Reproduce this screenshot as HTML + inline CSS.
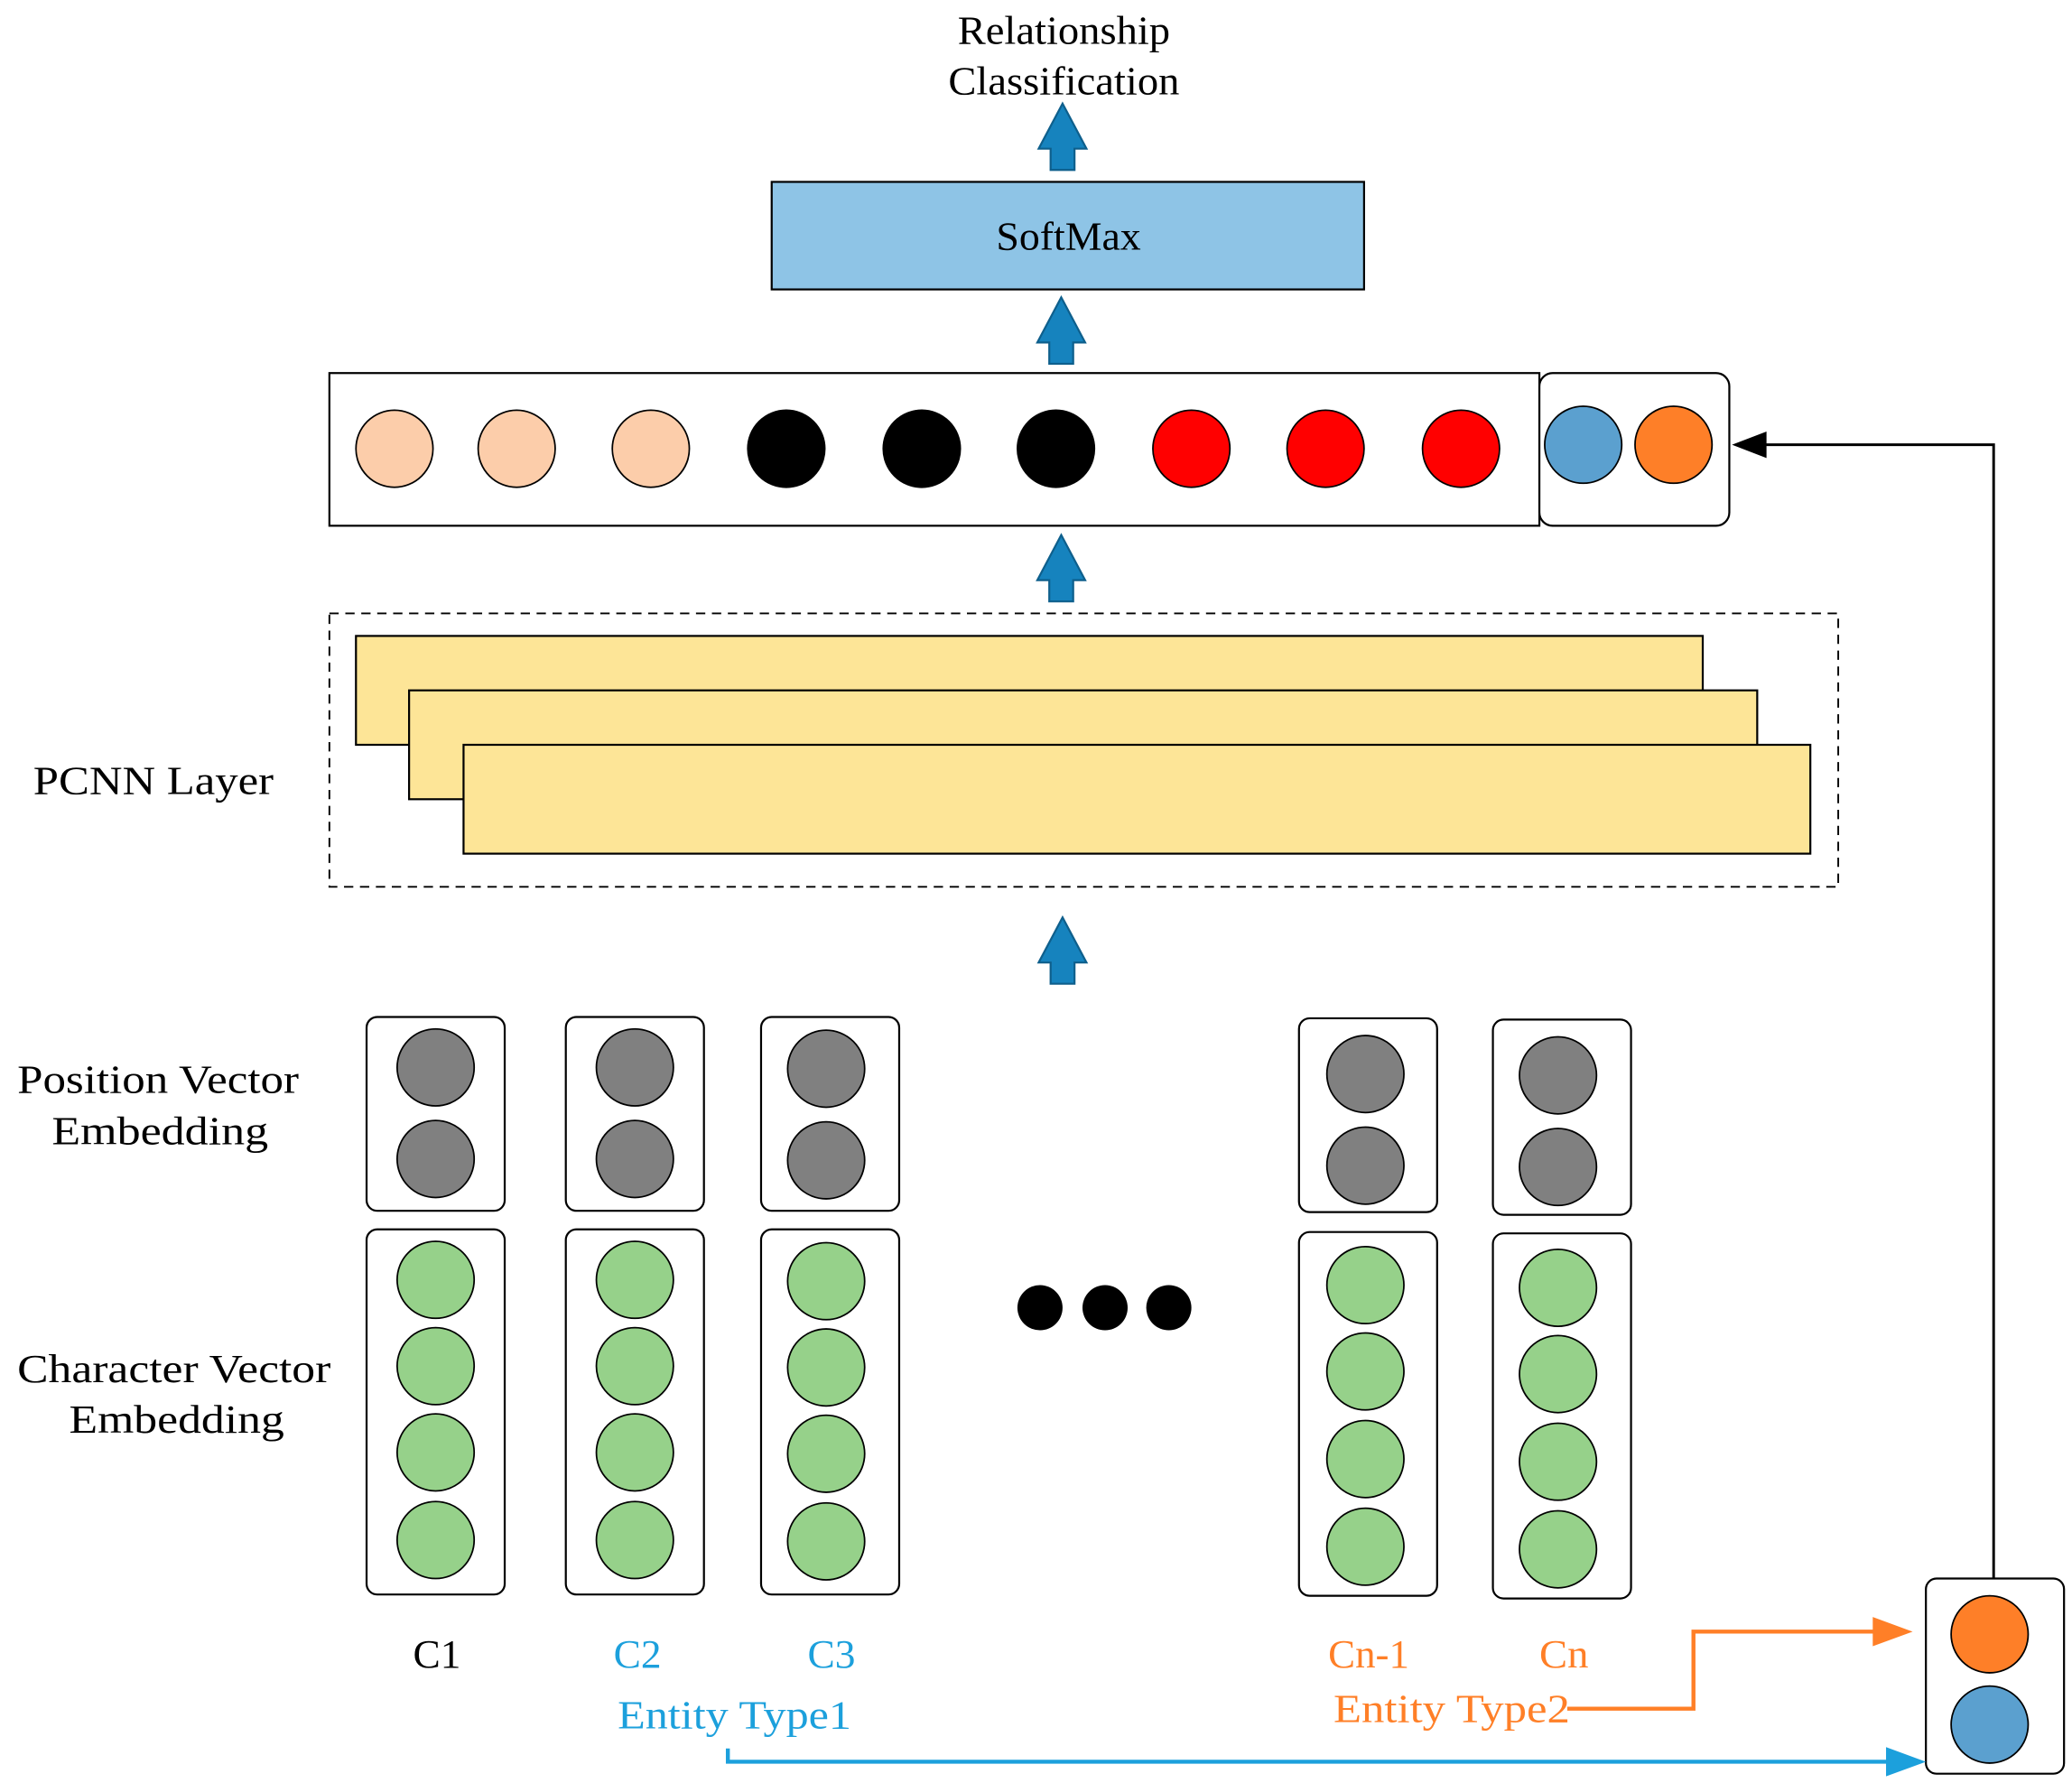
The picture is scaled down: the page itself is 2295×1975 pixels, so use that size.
<!DOCTYPE html>
<html><head><meta charset="utf-8"><style>html,body{margin:0;padding:0;background:#fff}svg{display:block}</style></head><body>
<svg width="2295" height="1975" viewBox="0 0 1560 1343" preserveAspectRatio="none" xmlns="http://www.w3.org/2000/svg" font-family="'Liberation Serif', serif">
<defs>
<g id="barrow"><polygon points="0,0 18,34 9,34 9,50 -9,50 -9,34 -18,34" fill="#1683BE" stroke="#0E5F8C" stroke-width="1.5"/></g>
</defs>
<g font-size="30" lengthAdjust="spacingAndGlyphs">
<text x="721" y="33" textLength="160" lengthAdjust="spacingAndGlyphs">Relationship</text>
<text x="714" y="71" textLength="174" lengthAdjust="spacingAndGlyphs">Classification</text>
</g>
<use href="#barrow" x="800" y="78"/>
<rect x="581" y="137" width="446" height="81" fill="#8EC4E6" stroke="#000" stroke-width="1.5"/>
<text x="750" y="188" font-size="30" textLength="109" lengthAdjust="spacingAndGlyphs">SoftMax</text>
<use href="#barrow" x="799" y="224"/>
<rect x="248" y="281" width="911" height="115" fill="#fff" stroke="#000" stroke-width="1.5"/>
<rect x="1159" y="281" width="143" height="115" rx="10" fill="#fff" stroke="#000" stroke-width="1.5"/>
<g stroke="#000" stroke-width="1.2">
<circle cx="297" cy="338" r="29" fill="#FCCDAA"/><circle cx="389" cy="338" r="29" fill="#FCCDAA"/><circle cx="490" cy="338" r="29" fill="#FCCDAA"/>
<circle cx="592" cy="338" r="29" fill="#000"/><circle cx="694" cy="338" r="29" fill="#000"/><circle cx="795" cy="338" r="29" fill="#000"/>
<circle cx="897" cy="338" r="29" fill="#FF0000"/><circle cx="998" cy="338" r="29" fill="#FF0000"/><circle cx="1100" cy="338" r="29" fill="#FF0000"/>
<circle cx="1192" cy="335" r="29" fill="#5BA0CF"/><circle cx="1260" cy="335" r="29" fill="#FE7F28"/>
</g>
<use href="#barrow" x="799" y="403"/>
<rect x="248" y="462" width="1136" height="206" fill="none" stroke="#000" stroke-width="1.3" stroke-dasharray="7,5"/>
<g fill="#FDE597" stroke="#000" stroke-width="1.5">
<rect x="268" y="479" width="1014" height="82"/>
<rect x="308" y="520" width="1015" height="82"/>
<rect x="349" y="561" width="1014" height="82"/>
</g>
<text x="25" y="598" font-size="30" textLength="181" lengthAdjust="spacingAndGlyphs">PCNN Layer</text>
<use href="#barrow" x="800" y="691"/>
<text x="13" y="823" font-size="30" textLength="212" lengthAdjust="spacingAndGlyphs">Position Vector</text>
<text x="39" y="862" font-size="30" textLength="163" lengthAdjust="spacingAndGlyphs">Embedding</text>
<text x="13" y="1041" font-size="30" textLength="236" lengthAdjust="spacingAndGlyphs">Character Vector</text>
<text x="52" y="1079" font-size="30" textLength="162" lengthAdjust="spacingAndGlyphs">Embedding</text>
<g fill="#fff" stroke="#000" stroke-width="1.5">
<rect x="276" y="766" width="104" height="146" rx="8"/><rect x="426" y="766" width="104" height="146" rx="8"/><rect x="573" y="766" width="104" height="146" rx="8"/>
<rect x="978" y="767" width="104" height="146" rx="8"/><rect x="1124" y="768" width="104" height="147" rx="8"/>
<rect x="276" y="926" width="104" height="275" rx="8"/><rect x="426" y="926" width="104" height="275" rx="8"/><rect x="573" y="926" width="104" height="275" rx="8"/>
<rect x="978" y="928" width="104" height="274" rx="8"/><rect x="1124" y="929" width="104" height="275" rx="8"/>
<rect x="1450" y="1189" width="104" height="147" rx="8"/>
</g>
<g stroke="#000" stroke-width="1.2" fill="#808080">
<circle cx="328" cy="804" r="29"/><circle cx="328" cy="873" r="29"/>
<circle cx="478" cy="804" r="29"/><circle cx="478" cy="873" r="29"/>
<circle cx="622" cy="805" r="29"/><circle cx="622" cy="874" r="29"/>
<circle cx="1028" cy="809" r="29"/><circle cx="1028" cy="878" r="29"/>
<circle cx="1173" cy="810" r="29"/><circle cx="1173" cy="879" r="29"/>
</g>
<g stroke="#000" stroke-width="1.2" fill="#96D18A">
<circle cx="328" cy="964" r="29"/><circle cx="328" cy="1029" r="29"/><circle cx="328" cy="1094" r="29"/><circle cx="328" cy="1160" r="29"/>
<circle cx="478" cy="964" r="29"/><circle cx="478" cy="1029" r="29"/><circle cx="478" cy="1094" r="29"/><circle cx="478" cy="1160" r="29"/>
<circle cx="622" cy="965" r="29"/><circle cx="622" cy="1030" r="29"/><circle cx="622" cy="1095" r="29"/><circle cx="622" cy="1161" r="29"/>
<circle cx="1028" cy="968" r="29"/><circle cx="1028" cy="1033" r="29"/><circle cx="1028" cy="1099" r="29"/><circle cx="1028" cy="1165" r="29"/>
<circle cx="1173" cy="970" r="29"/><circle cx="1173" cy="1035" r="29"/><circle cx="1173" cy="1101" r="29"/><circle cx="1173" cy="1167" r="29"/>
</g>
<circle cx="783" cy="985" r="17"/><circle cx="832" cy="985" r="17"/><circle cx="880" cy="985" r="17"/>
<text x="311" y="1256" font-size="30" textLength="36" lengthAdjust="spacingAndGlyphs">C1</text>
<text x="462" y="1256" font-size="30" fill="#1CA0DC" textLength="36" lengthAdjust="spacingAndGlyphs">C2</text>
<text x="608" y="1256" font-size="30" fill="#1CA0DC" textLength="36" lengthAdjust="spacingAndGlyphs">C3</text>
<text x="1000" y="1256" font-size="30" fill="#FF7F27" textLength="61" lengthAdjust="spacingAndGlyphs">Cn-1</text>
<text x="1159" y="1256" font-size="30" fill="#FF7F27" textLength="37" lengthAdjust="spacingAndGlyphs">Cn</text>
<text x="465" y="1302" font-size="30" fill="#1CA0DC" textLength="176" lengthAdjust="spacingAndGlyphs">Entity Type1</text>
<text x="1004" y="1297" font-size="30" fill="#FF7F27" textLength="178" lengthAdjust="spacingAndGlyphs">Entity Type2</text>
<polyline points="1180,1287 1275,1287 1275,1229 1412,1229" fill="none" stroke="#FF7F27" stroke-width="3"/>
<polygon points="1440,1229 1410,1218 1410,1240" fill="#FF7F27"/>
<polyline points="548,1317 548,1327 1422,1327" fill="none" stroke="#1CA0DC" stroke-width="3"/>
<polygon points="1450,1327 1420,1316 1420,1338" fill="#1CA0DC"/>
<circle cx="1498" cy="1231" r="29" fill="#FE7F28" stroke="#000" stroke-width="1.2"/>
<circle cx="1498" cy="1299" r="29" fill="#5BA0CF" stroke="#000" stroke-width="1.2"/>
<polyline points="1501,1189 1501,335 1328,335" fill="none" stroke="#000" stroke-width="2"/>
<polygon points="1304,335 1330,325 1330,345" fill="#000"/>
</svg>
</body></html>
